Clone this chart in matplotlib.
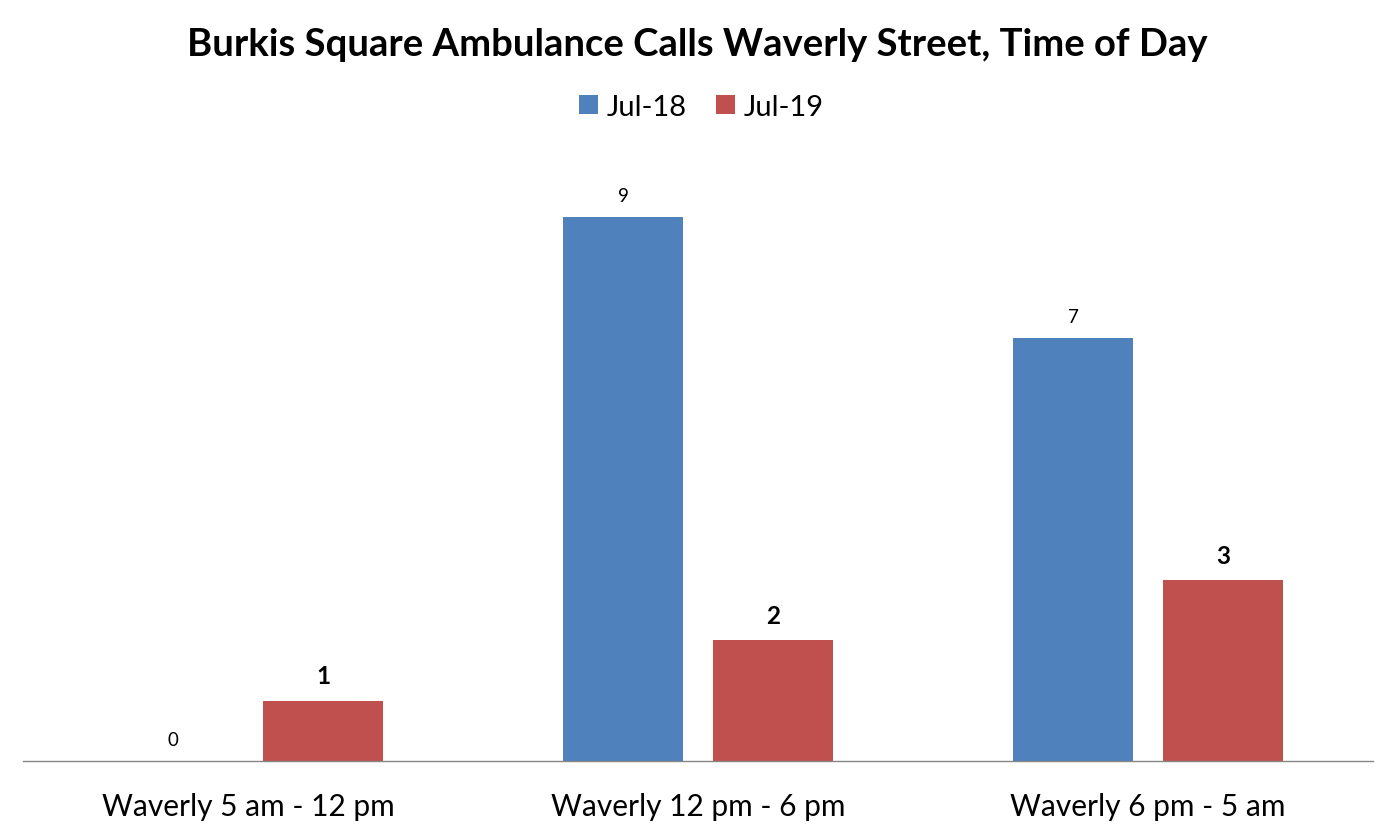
import matplotlib.pyplot as plt
import numpy as np

plt.rcParams['font.family'] = ['Lato', 'DejaVu Sans']

categories = ['Waverly 5 am - 12 pm', 'Waverly 12 pm - 6 pm', 'Waverly 6 pm - 5 am']
jul18 = [0, 9, 7]
jul19 = [1, 2, 3]

blue = '#4F81BD'
red = '#C0504D'

fig = plt.figure(figsize=(13.95, 8.37), dpi=100)
ax = fig.add_axes([23 / 1395, 1 - 762 / 837, 1350 / 1395, (762 - 158) / 837])

x = np.arange(len(categories))
w = 0.2667
b1 = ax.bar(x - 0.1667, jul18, w, color=blue, label='Jul-18')
b2 = ax.bar(x + 0.1667, jul19, w, color=red, label='Jul-19')

for rect, v in zip(b1, jul18):
    ax.text(rect.get_x() + rect.get_width() / 2, v + 0.22, str(v),
            ha='center', va='bottom', fontsize=13.5)
for rect, v in zip(b2, jul19):
    ax.text(rect.get_x() + rect.get_width() / 2, v + 0.22, str(v),
            ha='center', va='bottom', fontsize=17.5, fontweight='bold')

ax.set_xlim(-0.5, 2.5)
ax.set_ylim(0, 10)
ax.set_yticks([])
ax.set_xticks(x)
ax.set_xticklabels(categories, fontsize=21.5)
ax.tick_params(axis='x', length=0, pad=22)
for s in ['top', 'left', 'right']:
    ax.spines[s].set_visible(False)
ax.spines['bottom'].set_color('#868686')
ax.spines['bottom'].set_linewidth(1)

fig.text(0.5, 1 - 45 / 837, 'Burkis Square Ambulance Calls Waverly Street, Time of Day',
         ha='center', va='center', fontsize=27.5, fontweight='bold')
fig.legend(loc='center', bbox_to_anchor=(0.503, 1 - 108 / 837), ncol=2, frameon=False,
           fontsize=21, handlelength=0.65, handleheight=0.65, handletextpad=0.3,
           columnspacing=1.0)

fig.savefig('out.png', dpi=100)
